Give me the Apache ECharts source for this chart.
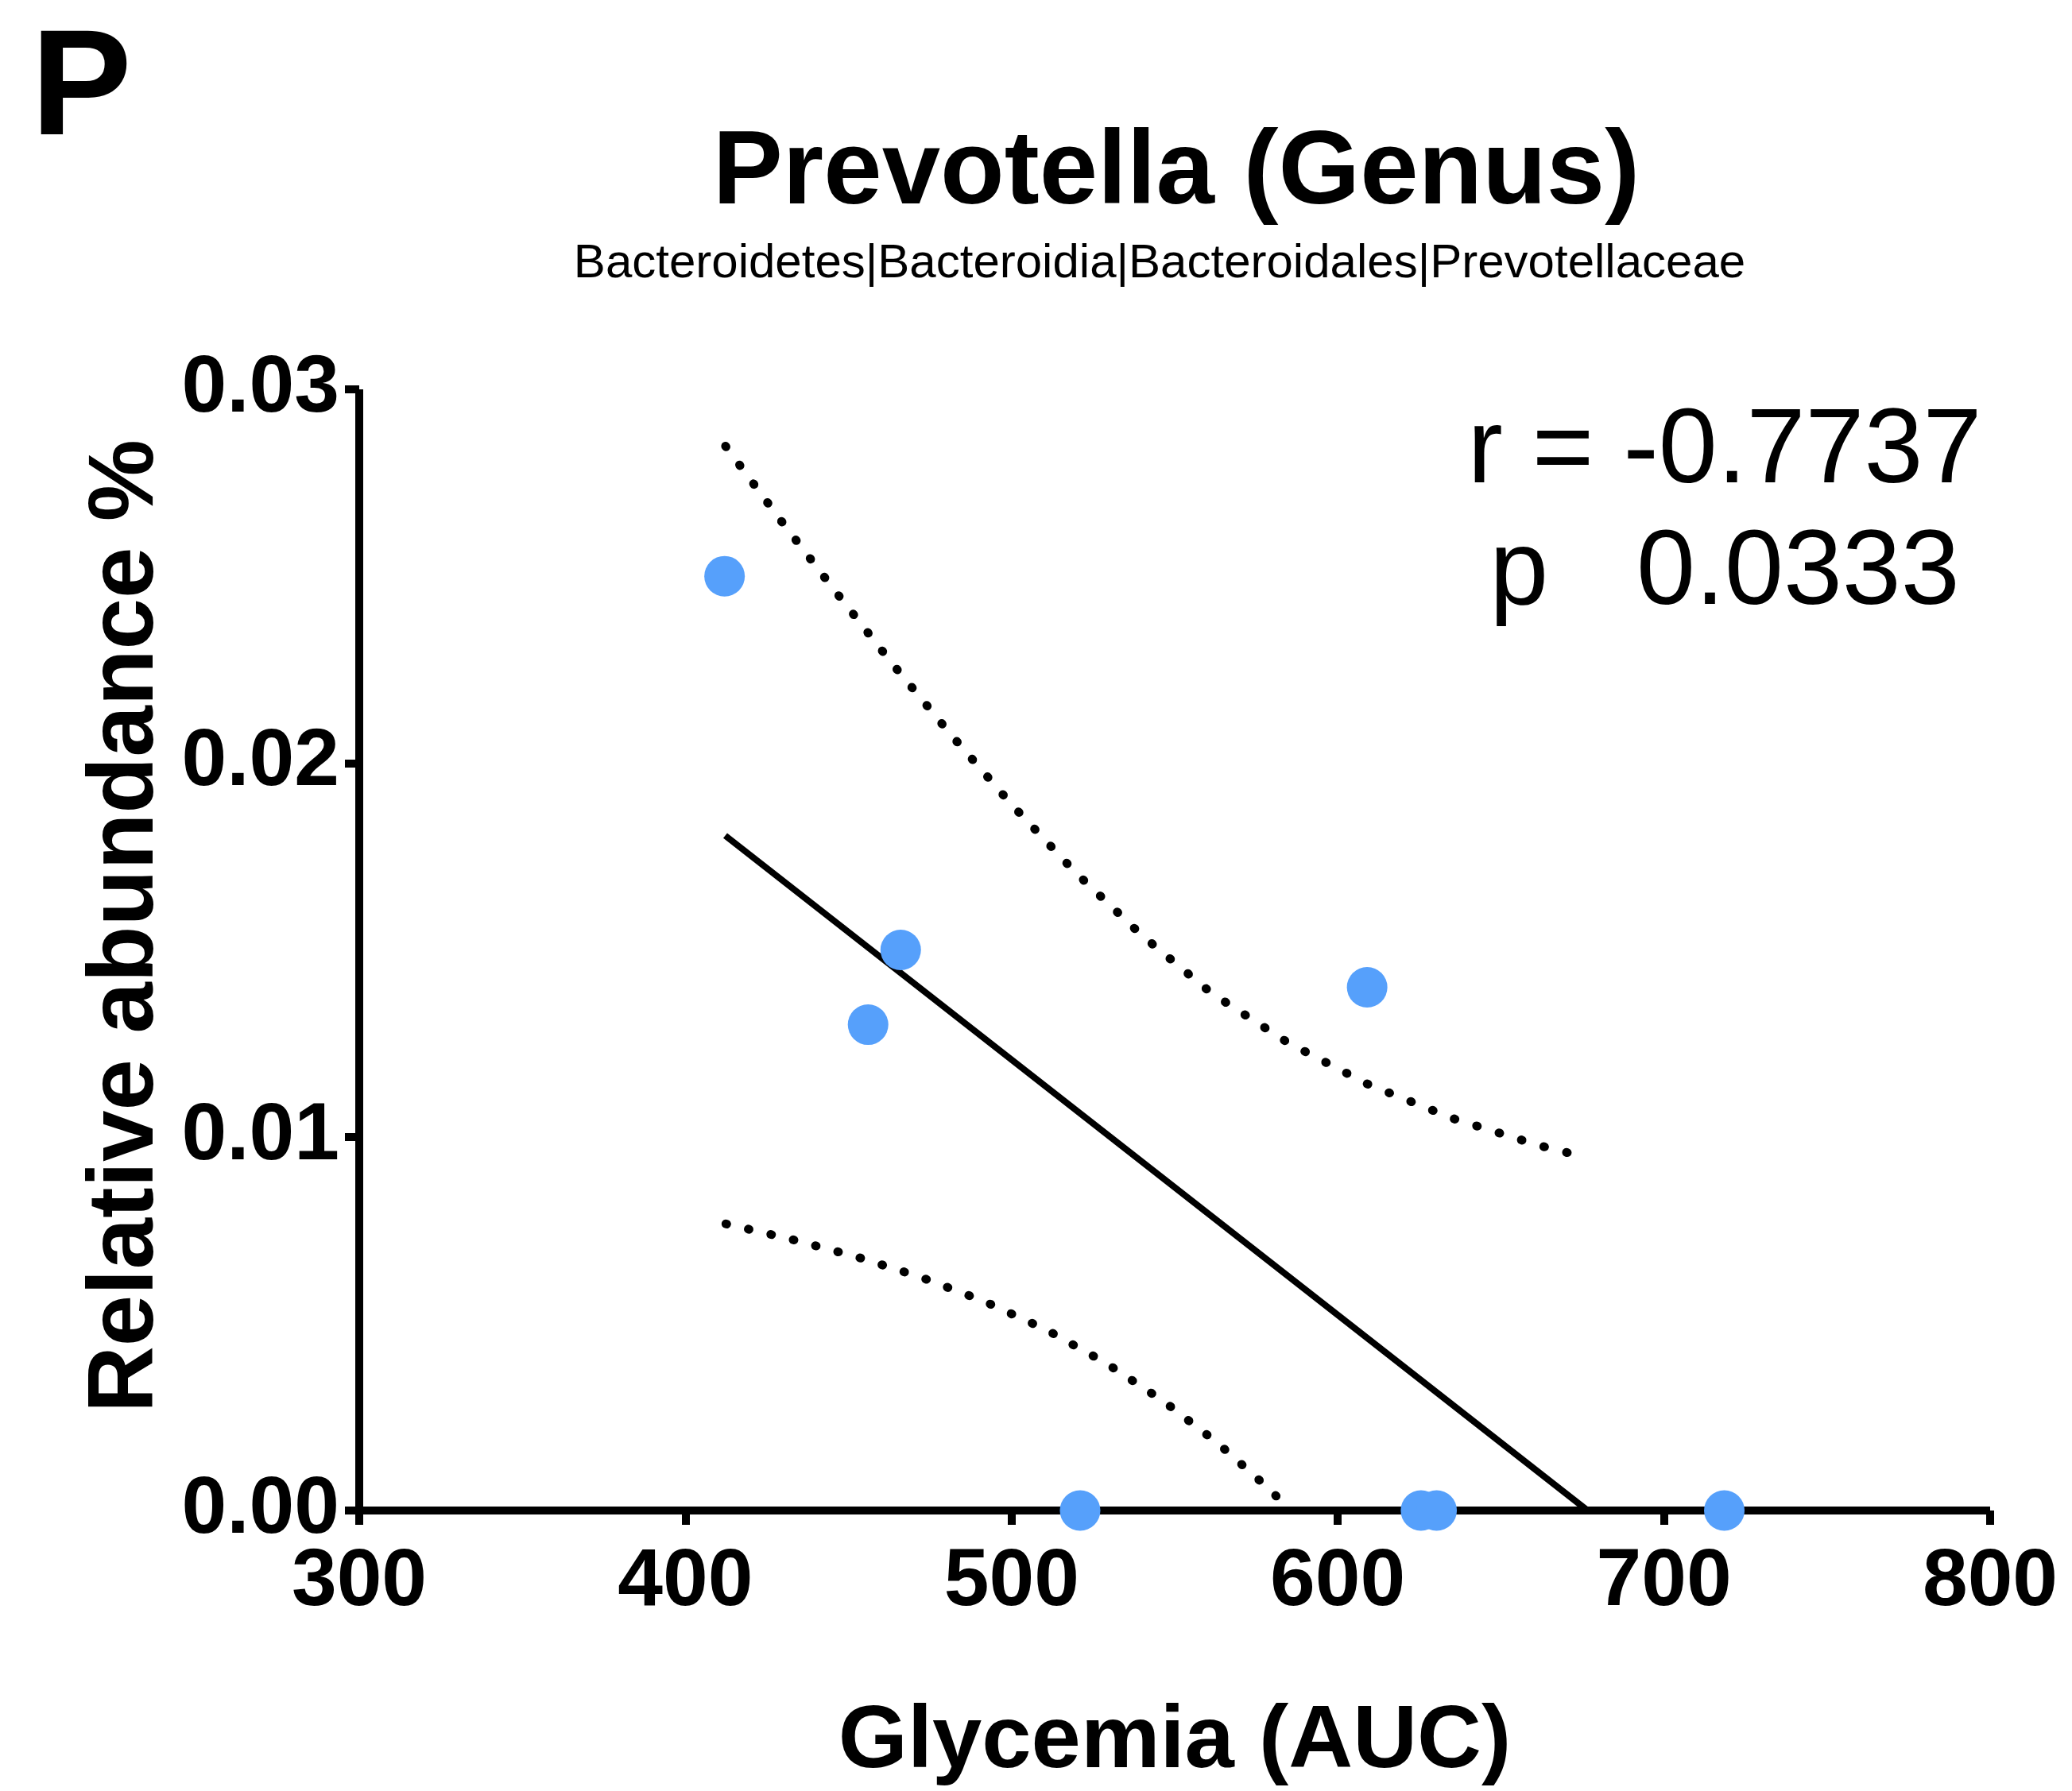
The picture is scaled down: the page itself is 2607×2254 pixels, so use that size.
<!DOCTYPE html>
<html>
<head>
<meta charset="utf-8">
<script src="https://cdn.jsdelivr.net/npm/echarts@6/dist/echarts.min.js"></script>
<style>
  html, body { margin: 0; padding: 0; background: #ffffff; }
  #chart { width: 2607px; height: 2254px; }
</style>
</head>
<body>
<div id="chart"></div>
<script>
// ---- data ----
const glycemia  = [412.0, 466.0, 456.0, 609.0, 521.0, 625.5, 630.3, 718.5];
const abundance = [0.0250, 0.0150, 0.0130, 0.0140, 0.0000, 0.0000, 0.0000, 0.0000];

// regression line end points
const fitX = [412.2, 676.6];
const fitY = [0.01806, 0.0];

// 95% confidence band (upper)
const upperX = [412.3, 429.1, 446.2, 463.7, 481.7, 500.1, 519.4, 539.8, 561.2, 584.7, 609.4, 635.3, 661.6, 675.2];
const upperY = [0.02848, 0.02651, 0.02457, 0.02263, 0.02073, 0.01888, 0.01709, 0.01540, 0.01385, 0.01252, 0.01140, 0.01049, 0.00977, 0.00947];

// 95% confidence band (lower)
const lowerX = [412.4, 432.4, 452.4, 472.3, 491.8, 510.8, 529.0, 546.5, 563.1, 578.8, 583.7];
const lowerY = [0.00767, 0.00726, 0.00679, 0.00624, 0.00559, 0.00483, 0.00394, 0.00293, 0.00181, 0.00059, 0.00016];

const xMin = 300, xMax = 800, xStep = 100;
const yMin = 0, yMax = 0.03, yStep = 0.01;
const yTickDecimals = 2;

const panelLabel = 'P';
const titleText = 'Prevotella (Genus)';
const subtitleText = 'Bacteroidetes|Bacteroidia|Bacteroidales|Prevotellaceae';
const statLine1 = 'r = -0.7737';
const statLine2 = 'p   0.0333';
const xName = 'Glycemia (AUC)';
const yName = 'Relative abundance %';

// ---- chart ----
const zip = (a, b) => a.map((v, i) => [v, b[i]]);
const FONT = "'Liberation Sans', Arial, Helvetica, sans-serif";

const chart = echarts.init(document.getElementById('chart'), null, { renderer: 'canvas' });

const axisCommon = {
  axisLine: { show: true, onZero: false, lineStyle: { color: '#000', width: 10, cap: 'butt' } },
  axisTick: { show: true, inside: false, length: 18, lineStyle: { color: '#000', width: 10 } },
  splitLine: { show: false }
};

chart.setOption({
  animation: false,
  backgroundColor: '#ffffff',
  textStyle: { fontFamily: FONT },
  title: [
    { text: panelLabel, left: 39, top: 22, padding: 0,
      textStyle: { fontFamily: FONT, fontSize: 190, fontWeight: 'bold', color: '#000' } },
    { text: titleText, left: 1480, top: 154, textAlign: 'center', padding: 0,
      textStyle: { fontFamily: FONT, fontSize: 132, fontWeight: 'bold', color: '#000' } },
    { text: subtitleText, left: 1459, top: 302, textAlign: 'center', padding: 0,
      textStyle: { fontFamily: FONT, fontSize: 60, fontWeight: 'normal', color: '#000' } },
    { text: statLine1, left: 2170, top: 504, textAlign: 'center', padding: 0,
      textStyle: { fontFamily: FONT, fontSize: 133, fontWeight: 'normal', color: '#000' } },
    { text: statLine2, left: 2170, top: 657, textAlign: 'center', padding: 0,
      textStyle: { fontFamily: FONT, fontSize: 133, fontWeight: 'normal', color: '#000' } }
  ],
  grid: { left: 452, right: 103, top: 490, bottom: 352, containLabel: false },
  xAxis: Object.assign({}, axisCommon, {
    type: 'value', min: xMin, max: xMax, interval: xStep,
    name: xName, nameLocation: 'middle', nameGap: 236,
    nameTextStyle: { color: '#000', fontFamily: FONT, fontWeight: 'bold', fontSize: 112 },
    axisLabel: { color: '#000', fontFamily: FONT, fontWeight: 'bold', fontSize: 102, margin: 40,
      showMinLabel: true, showMaxLabel: true }
  }),
  yAxis: Object.assign({}, axisCommon, {
    type: 'value', min: yMin, max: yMax, interval: yStep,
    name: yName, nameLocation: 'middle', nameGap: 231,
    nameTextStyle: { color: '#000', fontFamily: FONT, fontWeight: 'bold', fontSize: 116, padding: [0, 0, 0, 60] },
    axisLabel: { color: '#000', fontFamily: FONT, fontWeight: 'bold', fontSize: 102, margin: 25,
      formatter: v => v.toFixed(yTickDecimals), showMinLabel: true, showMaxLabel: true }
  }),
  series: [
    { type: 'line', name: 'upper95', data: zip(upperX, upperY), showSymbol: false, symbol: 'none',
      lineStyle: { color: '#000', width: 11, type: [1, 28.5], cap: 'round' }, z: 2, silent: true },
    { type: 'line', name: 'lower95', data: zip(lowerX, lowerY), showSymbol: false, symbol: 'none',
      lineStyle: { color: '#000', width: 11, type: [1, 28], cap: 'round' }, z: 2, silent: true },
    { type: 'line', name: 'fit', data: zip(fitX, fitY), showSymbol: false, symbol: 'none',
      lineStyle: { color: '#000', width: 8 }, z: 3, silent: true },
    { type: 'scatter', name: 'samples', data: zip(glycemia, abundance), symbol: 'circle', symbolSize: 51,
      itemStyle: { color: '#56a0fb', opacity: 1 }, z: 5, clip: false }
  ]
});
</script>
</body>
</html>
